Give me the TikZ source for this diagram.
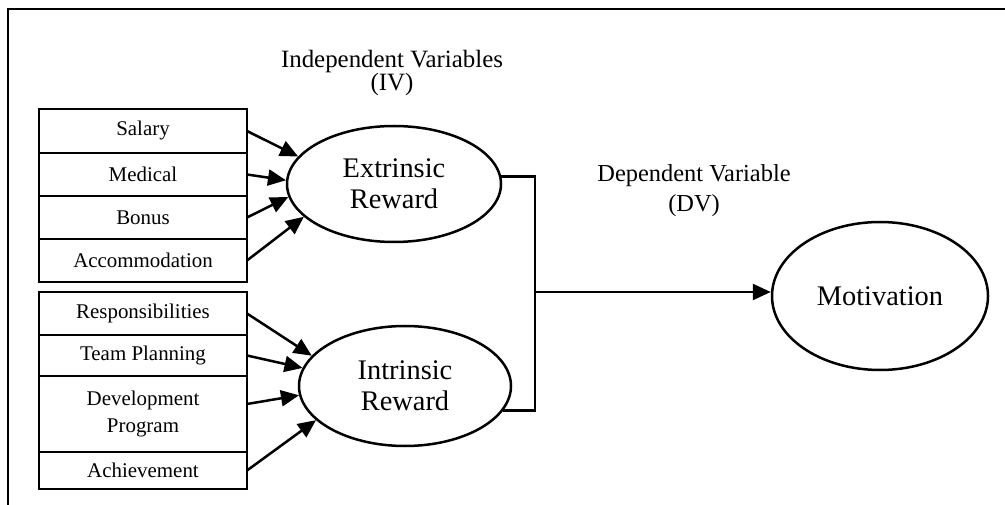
\documentclass[tikz,border=0pt]{standalone}
\usepackage{fontspec}
\setmainfont{Liberation Serif}
\usetikzlibrary{positioning}
\usetikzlibrary{shapes.geometric,arrows.meta}

\tikzset{
  factor/.style={draw, line width=2.5bp, rectangle, minimum width=208bp, outer sep=0pt,
    inner sep=0pt, align=center, font=\fontsize{21}{27}\selectfont},
  reward/.style={draw, line width=2.5bp, ellipse, inner sep=0pt, align=center,
    font=\fontsize{28.5}{31}\selectfont},
  heading/.style={inner sep=0pt, align=center},
  arr/.style={-{Triangle[length=18bp,width=16bp]}, line width=2.5bp},
}

\begin{document}
\begin{tikzpicture}[x=1bp,y=-1bp]
	\useasboundingbox (0,0) rectangle (1005,505);
	% Frame
	\draw[line width=2.2bp] (8,505) -- (8,9) -- (1005,9);
	% Headings
	\node[heading, font=\fontsize{25}{23}\selectfont] (iv) at (392,73) {Independent Variables\\(IV)};
	\node[heading, font=\fontsize{24.5}{30}\selectfont] (dv) at (694,191) {Dependent Variable\\(DV)};
	% Extrinsic factors
	\node[factor, minimum height=44bp] (salary) at (143,131) {Salary};
	\node[factor, minimum height=43bp, below=0pt of salary] (medical) {Medical};
	\node[factor, minimum height=43bp, below=0pt of medical] (bonus) {Bonus};
	\node[factor, minimum height=43bp, below=0pt of bonus] (accom) {Accommodation};
	% Intrinsic factors
	\node[factor, minimum height=43bp] (resp) at (143,313.5) {Responsibilities};
	\node[factor, minimum height=41bp, below=0pt of resp] (team) {Team Planning};
	\node[factor, minimum height=76bp, below=0pt of team] (dev) {Development\\Program};
	\node[factor, minimum height=37bp, below=0pt of dev] (ach) {Achievement};
	% Rewards and motivation
	\node[reward, minimum width=214bp, minimum height=116bp] (ext) at (394,184) {Extrinsic\\Reward};
	\node[reward, minimum width=212bp, minimum height=120bp] (int) at (405,386) {Intrinsic\\Reward};
	\node[reward, minimum width=216bp, minimum height=148bp] (mot) at (880,296) {Motivation};
	% Arrows into extrinsic reward
	\draw[arr] (salary.east) -- (ext.164);
	\draw[arr] (medical.east) -- (ext.178);
	\draw[arr] (bonus.east) -- (ext.187);
	\draw[arr] (accom.east) -- (ext.200);
	% Arrows into intrinsic reward
	\draw[arr] (resp.east) -- (int.162);
	\draw[arr] (team.east) -- (int.170);
	\draw[arr] ([yshift=10bp]dev.east) -- (int.185);
	\draw[arr] (ach.east) -- (int.201);
	% Bracket to motivation
	\coordinate (bus) at (535,292);
	\draw[line width=2.5bp] (ext.4) -| (bus) |- (int.-14);
	\draw[arr] (bus) -- (bus -| mot.west);
\end{tikzpicture}
\end{document}
